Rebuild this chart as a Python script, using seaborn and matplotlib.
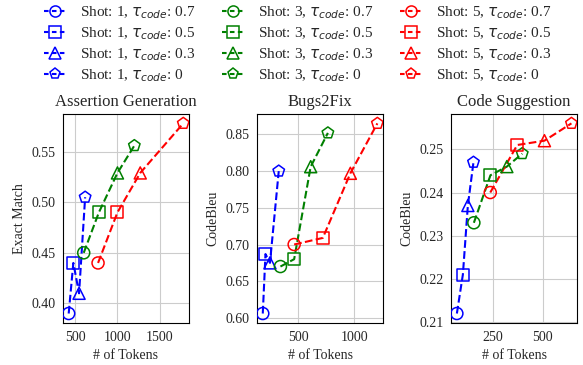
import matplotlib
matplotlib.use('Agg')
import matplotlib.pyplot as plt
from matplotlib.lines import Line2D
import pandas as pd
import seaborn as sns

shots = [1, 3, 5]
taus = [0.7, 0.5, 0.3, 0]
colors = {1: 'blue', 3: 'green', 5: 'red'}
markers = {0.7: 'o', 0.5: 's', 0.3: '^', 0: 'p'}

titles = ['Assertion Generation', 'Bugs2Fix', 'Code Suggestion']
ylabels = ['Exact Match', 'CodeBleu', 'CodeBleu']

# one row per shot, points ordered by tau (0.7, 0.5, 0.3, 0)
ag_tokens = [[422, 477, 545, 617], [600, 780, 1000, 1200], [770, 1000, 1270, 1780]]
ag_scores = [[0.390, 0.440, 0.410, 0.505], [0.450, 0.490, 0.529, 0.556], [0.440, 0.490, 0.529, 0.578]]

bf_tokens = [[186, 210, 250, 328], [343, 465, 612, 765], [465, 720, 965, 1205]]
bf_scores = [[0.606, 0.687, 0.675, 0.800], [0.670, 0.680, 0.806, 0.852], [0.700, 0.709, 0.797, 0.865]]

cs_tokens = [[70, 100, 125, 153], [155, 238, 320, 397], [237, 372, 508, 643]]
cs_scores = [[0.212, 0.221, 0.237, 0.247], [0.233, 0.244, 0.246, 0.249], [0.240, 0.251, 0.252, 0.256]]

yticks = [[0.40, 0.45, 0.50, 0.55],
          [0.60, 0.65, 0.70, 0.75, 0.80, 0.85],
          [0.21, 0.22, 0.23, 0.24, 0.25]]
xticks = [[500, 1000, 1500], [500, 1000], [250, 500]]


def make_frame(tokens, scores):
    rows = []
    for i, shot in enumerate(shots):
        for j, tau in enumerate(taus):
            rows.append({'shot': shot, 'tau': tau, 'tokens': tokens[i][j], 'score': scores[i][j]})
    return pd.DataFrame(rows)


frames = [make_frame(ag_tokens, ag_scores),
          make_frame(bf_tokens, bf_scores),
          make_frame(cs_tokens, cs_scores)]

sns.set_style('whitegrid', {'axes.edgecolor': 'black', 'grid.color': '#cccccc'})
plt.rcParams['font.family'] = ['Liberation Serif', 'DejaVu Sans']
plt.rcParams['mathtext.fontset'] = 'dejavusans'

fig, axes = plt.subplots(1, 3, figsize=(5.83, 3.65), dpi=100)
fig.subplots_adjust(left=0.108, right=0.99, top=0.688, bottom=0.115, wspace=0.54)

for k, ax in enumerate(axes):
    df = frames[k]
    sns.lineplot(data=df, x='tokens', y='score', hue='shot', palette=colors,
                 sort=False, estimator=None, linestyle='--', linewidth=1.5,
                 legend=False, ax=ax)
    sns.scatterplot(data=df, x='tokens', y='score', hue='shot', style='tau',
                    palette=colors, markers=markers, s=75, legend=False, ax=ax, zorder=3)
    pts = ax.collections[-1]
    fc = pts.get_facecolors()
    pts.set_edgecolors(fc)
    pts.set_facecolors('none')
    pts.set_linewidths(1.1)

    ax.set_title(titles[k], fontsize=12)
    ax.set_ylabel(ylabels[k], fontsize=10)
    ax.set_xlabel('# of Tokens', fontsize=10)
    ax.set_yticks(yticks[k])
    ax.set_xticks(xticks[k])
    ax.tick_params(labelsize=10, pad=2)
    for sp in ax.spines.values():
        sp.set_linewidth(0.8)

handles = []
for shot in shots:
    for tau in taus:
        handles.append(Line2D([], [], color=colors[shot], linestyle=(0, (2.2, 1.6)), linewidth=1.5,
                              marker=markers[tau], markersize=8, markerfacecolor='none',
                              markeredgewidth=1.1,
                              label=r'Shot: %d, $\tau_{code}$: %s' % (shot, tau)))

fig.legend(handles=handles, ncol=3, loc='upper center', bbox_to_anchor=(0.51, 1.025),
           frameon=False, fontsize=11, labelspacing=0.28, columnspacing=1.75,
           handlelength=1.5, handletextpad=0.85)

fig.savefig('out.png', dpi=100)
